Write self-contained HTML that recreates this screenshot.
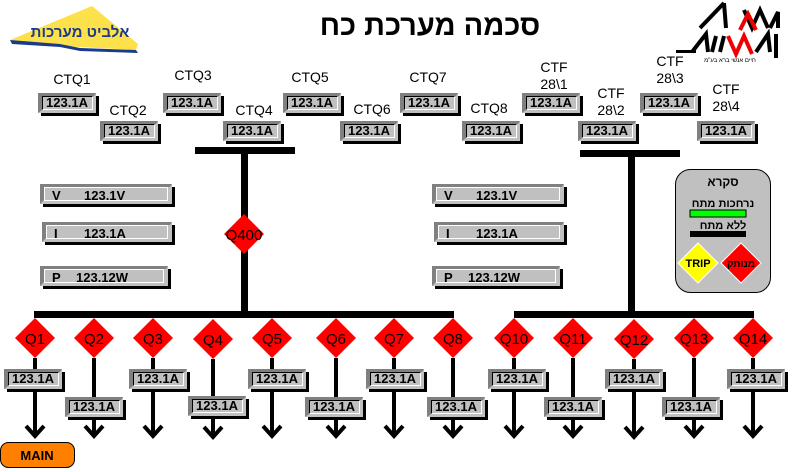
<!DOCTYPE html>
<html><head><meta charset="utf-8"><style>
html,body{margin:0;padding:0;background:#fff;width:796px;height:472px;overflow:hidden}
svg{display:block}
text{font-family:"Liberation Sans","Noto Sans CJK SC",sans-serif}
.v{font-size:13px;font-weight:bold;text-anchor:middle}
.l{font-size:14px;text-anchor:middle}
.q{font-size:15px;text-anchor:middle}
.h{font-family:"Liberation Sans","WenQuanYi Zen Hei","Noto Sans CJK SC",sans-serif}
</style></head><body>
<svg width="796" height="472" viewBox="0 0 796 472" xmlns="http://www.w3.org/2000/svg">
<defs>
<g id="bx">
<rect x="3" y="3" width="58" height="20" fill="#000"/>
<rect x="0" y="0" width="58" height="20" fill="#c0c0c0"/>
<polygon points="0,0 58,0 56,3 4,3 4,17 0,20" fill="#808080"/>
<rect x="4.5" y="3.5" width="50" height="13" fill="#c0c0c0" stroke="#fff"/>
<path d="M4.5,16.5 V3.5 H54.5" fill="none" stroke="#000"/>
</g>
<g id="dm"><polygon points="0,-20 20,0 0,20 -20,0" fill="#f00"/></g>
<g id="ar"><line x1="0" y1="0" x2="0" y2="79" stroke="#000" stroke-width="4"/><polyline points="-9,68 0,78 9,68" fill="none" stroke="#000" stroke-width="4"/></g>
</defs>

<!-- Elbit logo -->
<polygon points="10,40 92,6 138,44 136,50 60,46 10,40" fill="#fde14a"/>
<path d="M10,40 L60,44 L80,48 L136,50 L138,53 L80,51 L60,47 L12,44 Z" fill="#1a3a8a"/>
<text x="80" y="37" text-anchor="middle" class="h" font-size="15" font-weight="bold" fill="#1a3a8a">אלביט מערכות</text>

<!-- AWA logo -->
<g stroke="#000" stroke-width="4" fill="none">
<path d="M700,28 L724,3"/>
<path d="M724,3 L726,28"/>
<path d="M744,10 L752,28 L760,10 L768,28"/>
<path d="M770,28 L778,12 L778,28"/>
<path d="M692,52 L706,34 L708,52"/>
<path d="M712,52 L716,36"/>
<path d="M720,52 L724,36"/>
<path d="M756,52 L768,34 L770,52"/>
<path d="M776,34 L776,58"/>
</g>
<rect x="676" y="50" width="20" height="3" fill="#000"/>
<g stroke="#e00" stroke-width="4" fill="none">
<path d="M740,30 L748,14 L756,30"/>
<path d="M728,36 L736,54 L744,36 L752,54"/>
</g>
<text x="730" y="62" font-size="6" text-anchor="middle" class="h">חיים אנשי ברא בע"מ</text>

<!-- Title -->
<text x="430" y="35" text-anchor="middle" class="h" font-size="29" font-weight="bold">סכמה מערכת כח</text>

<!-- top labels -->
<text class="l" x="72" y="84">CTQ1</text>
<text class="l" x="128" y="115">CTQ2</text>
<text class="l" x="193" y="80">CTQ3</text>
<text class="l" x="254" y="115">CTQ4</text>
<text class="l" x="310" y="82">CTQ5</text>
<text class="l" x="372" y="114">CTQ6</text>
<text class="l" x="428" y="82">CTQ7</text>
<text class="l" x="489" y="113">CTQ8</text>
<text class="l" x="554" y="72">CTF</text><text class="l" x="554" y="89">28\1</text>
<text class="l" x="611" y="98">CTF</text><text class="l" x="611" y="115">28\2</text>
<text class="l" x="670" y="66">CTF</text><text class="l" x="670" y="83">28\3</text>
<text class="l" x="726" y="94">CTF</text><text class="l" x="726" y="111">28\4</text>

<!-- top boxes -->
<g transform="translate(38,93)"><use href="#bx"/><text class="v" x="29" y="14">123.1A</text></g>
<g transform="translate(100,121)"><use href="#bx"/><text class="v" x="29" y="14">123.1A</text></g>
<g transform="translate(163,93)"><use href="#bx"/><text class="v" x="29" y="14">123.1A</text></g>
<g transform="translate(223,121)"><use href="#bx"/><text class="v" x="29" y="14">123.1A</text></g>
<g transform="translate(283,93)"><use href="#bx"/><text class="v" x="29" y="14">123.1A</text></g>
<g transform="translate(340,121)"><use href="#bx"/><text class="v" x="29" y="14">123.1A</text></g>
<g transform="translate(400,93)"><use href="#bx"/><text class="v" x="29" y="14">123.1A</text></g>
<g transform="translate(462,121)"><use href="#bx"/><text class="v" x="29" y="14">123.1A</text></g>
<g transform="translate(522,93)"><use href="#bx"/><text class="v" x="29" y="14">123.1A</text></g>
<g transform="translate(578,121)"><use href="#bx"/><text class="v" x="29" y="14">123.1A</text></g>
<g transform="translate(640,93)"><use href="#bx"/><text class="v" x="29" y="14">123.1A</text></g>
<g transform="translate(697,121)"><use href="#bx"/><text class="v" x="29" y="14">123.1A</text></g>

<!-- buses -->
<rect x="195" y="147" width="100" height="7" fill="#000"/>
<rect x="241" y="154" width="7" height="160" fill="#000"/>
<rect x="34" y="311" width="420" height="7" fill="#000"/>
<rect x="580" y="150" width="100" height="7" fill="#000"/>
<rect x="628" y="157" width="7" height="157" fill="#000"/>
<rect x="514" y="311" width="240" height="7" fill="#000"/>
<g transform="translate(244,234)"><use href="#dm"/><text class="q" x="0" y="6">Q400</text></g>

<!-- measurement boxes -->
<g id="meas">
<rect x="43" y="187" width="132" height="20" fill="#000"/>
<rect x="40" y="184" width="132" height="20" fill="#c0c0c0"/>
<polygon points="40,184 172,184 170,187 44,187 44,200 40,204" fill="#808080"/>
<rect x="44.5" y="187.5" width="123" height="13" fill="#c0c0c0" stroke="#fff"/>
<rect x="45" y="225" width="130" height="20" fill="#000"/>
<rect x="42" y="222" width="130" height="20" fill="#c0c0c0"/>
<polygon points="42,222 172,222 170,225 46,225 46,238 42,242" fill="#808080"/>
<rect x="46.5" y="225.5" width="121" height="13" fill="#c0c0c0" stroke="#fff"/>
<rect x="43" y="269" width="128" height="20" fill="#000"/>
<rect x="40" y="266" width="128" height="20" fill="#c0c0c0"/>
<polygon points="40,266 168,266 166,269 44,269 44,282 40,286" fill="#808080"/>
<rect x="44.5" y="269.5" width="119" height="13" fill="#c0c0c0" stroke="#fff"/>
</g>
<text x="52" y="200" font-size="13" font-weight="bold">V</text><text x="84" y="200" font-size="13" font-weight="bold">123.1V</text>
<text x="54" y="238" font-size="13" font-weight="bold">I</text><text x="84" y="238" font-size="13" font-weight="bold">123.1A</text>
<text x="52" y="282" font-size="13" font-weight="bold">P</text><text x="76" y="282" font-size="13" font-weight="bold">123.12W</text>
<use href="#meas" transform="translate(392,0)"/>
<text x="444" y="200" font-size="13" font-weight="bold">V</text><text x="476" y="200" font-size="13" font-weight="bold">123.1V</text>
<text x="446" y="238" font-size="13" font-weight="bold">I</text><text x="476" y="238" font-size="13" font-weight="bold">123.1A</text>
<text x="444" y="282" font-size="13" font-weight="bold">P</text><text x="468" y="282" font-size="13" font-weight="bold">123.12W</text>

<!-- legend -->
<rect x="675.5" y="169.5" width="95" height="123" rx="15" fill="#c0c0c0" stroke="#000"/>
<text x="723" y="186" text-anchor="middle" class="h" font-size="12" font-weight="bold">סקרא</text>
<text x="723" y="207" text-anchor="middle" class="h" font-size="11" font-weight="bold">נרחכות מתח</text>
<rect x="690" y="210" width="56" height="7" fill="#0f0" stroke="#000"/>
<text x="723" y="229" text-anchor="middle" class="h" font-size="11" font-weight="bold">ללא מתח</text>
<rect x="690" y="231" width="56" height="6" fill="#000"/>
<polygon points="698,243 718,263 698,283 678,263" fill="#ff0" stroke="#fff"/>
<text x="698" y="267" text-anchor="middle" font-size="11" font-weight="bold">TRIP</text>
<polygon points="741,243 761,263 741,283 721,263" fill="#f00" stroke="#fff"/>
<text x="741" y="267" text-anchor="middle" class="h" font-size="10" font-weight="bold">מנותק</text>

<!-- branches -->
<g transform="translate(35,338)"><use href="#dm"/><text class="q" x="0" y="6">Q1</text><use href="#ar" y="20"/></g>
<g transform="translate(94,338)"><use href="#dm"/><text class="q" x="0" y="6">Q2</text><use href="#ar" y="20"/></g>
<g transform="translate(153,338)"><use href="#dm"/><text class="q" x="0" y="6">Q3</text><use href="#ar" y="20"/></g>
<g transform="translate(213,339)"><use href="#dm"/><text class="q" x="0" y="6">Q4</text><use href="#ar" y="20"/></g>
<g transform="translate(272,338)"><use href="#dm"/><text class="q" x="0" y="6">Q5</text><use href="#ar" y="20"/></g>
<g transform="translate(336,338)"><use href="#dm"/><text class="q" x="0" y="6">Q6</text><use href="#ar" y="20"/></g>
<g transform="translate(394,338)"><use href="#dm"/><text class="q" x="0" y="6">Q7</text><use href="#ar" y="20"/></g>
<g transform="translate(453,338)"><use href="#dm"/><text class="q" x="0" y="6">Q8</text><use href="#ar" y="20"/></g>
<g transform="translate(514,338)"><use href="#dm"/><text class="q" x="0" y="6">Q10</text><use href="#ar" y="20"/></g>
<g transform="translate(573,338)"><use href="#dm"/><text class="q" x="0" y="6">Q11</text><use href="#ar" y="20"/></g>
<g transform="translate(634,339)"><use href="#dm"/><text class="q" x="0" y="6">Q12</text><use href="#ar" y="20"/></g>
<g transform="translate(694,338)"><use href="#dm"/><text class="q" x="0" y="6">Q13</text><use href="#ar" y="20"/></g>
<g transform="translate(753,338)"><use href="#dm"/><text class="q" x="0" y="6">Q14</text><use href="#ar" y="20"/></g>

<!-- branch boxes -->
<g transform="translate(4,369)"><use href="#bx"/><text class="v" x="29" y="14">123.1A</text></g>
<g transform="translate(65,397)"><use href="#bx"/><text class="v" x="29" y="14">123.1A</text></g>
<g transform="translate(129,369)"><use href="#bx"/><text class="v" x="29" y="14">123.1A</text></g>
<g transform="translate(188,396)"><use href="#bx"/><text class="v" x="29" y="14">123.1A</text></g>
<g transform="translate(248,369)"><use href="#bx"/><text class="v" x="29" y="14">123.1A</text></g>
<g transform="translate(305,397)"><use href="#bx"/><text class="v" x="29" y="14">123.1A</text></g>
<g transform="translate(366,369)"><use href="#bx"/><text class="v" x="29" y="14">123.1A</text></g>
<g transform="translate(427,397)"><use href="#bx"/><text class="v" x="29" y="14">123.1A</text></g>
<g transform="translate(488,369)"><use href="#bx"/><text class="v" x="29" y="14">123.1A</text></g>
<g transform="translate(544,397)"><use href="#bx"/><text class="v" x="29" y="14">123.1A</text></g>
<g transform="translate(605,369)"><use href="#bx"/><text class="v" x="29" y="14">123.1A</text></g>
<g transform="translate(662,397)"><use href="#bx"/><text class="v" x="29" y="14">123.1A</text></g>
<g transform="translate(727,369)"><use href="#bx"/><text class="v" x="29" y="14">123.1A</text></g>

<!-- MAIN -->
<rect x="0.5" y="442.5" width="74" height="25" rx="8" fill="#ff8000" stroke="#000"/>
<text x="37" y="460" text-anchor="middle" font-size="13" font-weight="bold">MAIN</text>
</svg>
</body></html>
